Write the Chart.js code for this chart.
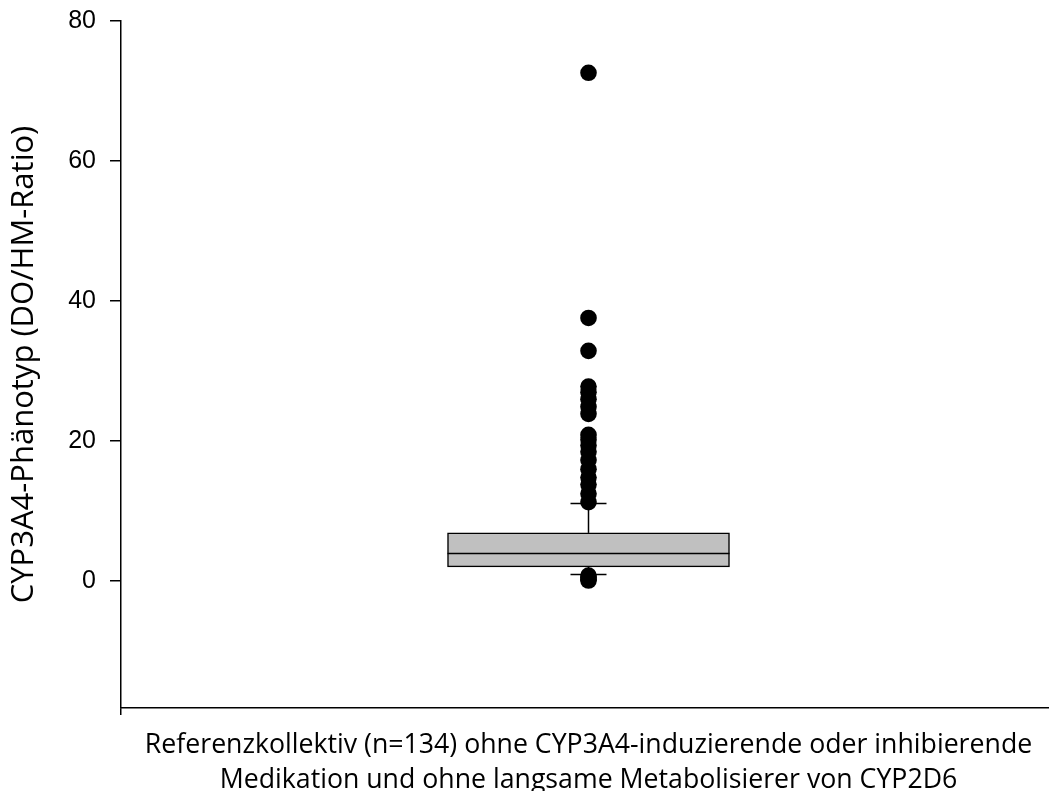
<!DOCTYPE html>
<html>
<head>
<meta charset="utf-8">
<script src="https://cdn.jsdelivr.net/npm/chart.js@4/dist/chart.umd.min.js"></script>
<style>
  html, body { margin: 0; padding: 0; background: #ffffff; overflow: hidden; }
  #wrap { width: 1049px; height: 791px; overflow: hidden; }
  canvas { display: block; }
</style>
</head>
<body>
<div id="wrap"><canvas id="c" width="1056" height="791"></canvas></div>
<script>
// ---- data ----
const categoryLabel = ["Referenzkollektiv (n=134) ohne CYP3A4-induzierende oder inhibierende",
                       "Medikation und ohne langsame Metabolisierer von CYP2D6"];
const yAxisTitle = "CYP3A4-Phänotyp (DO/HM-Ratio)";
const yTicks = [0, 20, 40, 60, 80];
const boxStats = { whiskerLow: 0.95, q1: 2.05, median: 3.95, q3: 6.9, whiskerHigh: 11.1 };
const outliers = [72.6, 37.6, 32.9,
                  27.8, 27.0, 26.0, 24.9, 23.9,
                  20.9, 20.2, 19.4, 18.5, 17.3, 16.0, 14.8, 13.8, 12.5, 11.3,
                  0.8, 0.55, 0.3, 0.1];

// ---- geometry (style) ----
const catX = 0;          // category position on the x scale
const boxHalf = 0.3016;  // half box width, x units
const capHalf = 0.0385;  // half whisker cap width, x units

const lineDs = (pts, order) => ({
  type: 'line', data: pts, borderColor: '#000', borderWidth: 1.5,
  pointRadius: 0, fill: false, order: order, tension: 0
});

const datasets = [
  { // box
    type: 'bar',
    data: [{ x: catX, y: [boxStats.q1, boxStats.q3] }],
    backgroundColor: '#c0c0c0', borderColor: '#000', borderWidth: 1.5,
    borderSkipped: false, barThickness: 282, order: 5
  },
  lineDs([{x: catX - boxHalf, y: boxStats.median}, {x: catX + boxHalf, y: boxStats.median}], 1),
  lineDs([{x: catX, y: boxStats.q3}, {x: catX, y: boxStats.whiskerHigh}], 2),
  lineDs([{x: catX, y: boxStats.q1}, {x: catX, y: boxStats.whiskerLow}], 2),
  lineDs([{x: catX - capHalf, y: boxStats.whiskerHigh}, {x: catX + capHalf, y: boxStats.whiskerHigh}], 0),
  lineDs([{x: catX - capHalf, y: boxStats.whiskerLow}, {x: catX + capHalf, y: boxStats.whiskerLow}], 0),
  { // outliers
    type: 'scatter',
    data: outliers.map(v => ({ x: catX, y: v })),
    backgroundColor: '#000', borderColor: '#000', pointRadius: 8.3, borderWidth: 0, order: 3
  }
];

new Chart(document.getElementById('c'), {
  data: { datasets },
  options: {
    responsive: false,
    animation: false,
    events: [],
    layout: { autoPadding: false, padding: { top: 21, right: 0, bottom: 0, left: 0 } },
    plugins: { legend: { display: false }, tooltip: { enabled: false } },
    scales: {
      x: {
        type: 'linear', min: -1, max: 1, offset: false,
        afterBuildTicks: s => { s.ticks = [{ value: catX }]; },
        afterFit: s => { s.height = 83; s.paddingLeft = 0; s.paddingRight = 0; },
        grid: { drawOnChartArea: false, drawTicks: true, tickLength: 7, color: '#000', lineWidth: 1.5 },
        border: { display: true, color: '#000', width: 1.5 },
        ticks: { display: true, callback: () => '', padding: 0 },
        title: {
          display: true, text: categoryLabel, color: '#000',
          font: { family: 'Open Sans', size: 26.7, lineHeight: '35px' },
          padding: { top: 0, bottom: -7 }
        }
      },
      y: {
        type: 'linear', min: -18.1, max: 80,
        afterBuildTicks: s => { s.ticks = yTicks.map(v => ({ value: v })); },
        afterFit: s => { s.width = 121; s.paddingTop = 0; s.paddingBottom = 0; },
        grid: { drawOnChartArea: false, drawTicks: true, tickLength: 11, color: '#000', lineWidth: 1.5 },
        border: { display: true, color: '#000', width: 1.5 },
        ticks: { color: '#000', padding: 14, font: { family: 'Liberation Sans', size: 25 } },
        title: {
          display: true, text: yAxisTitle, color: '#000',
          font: { family: 'Open Sans', size: 31, lineHeight: 1.2 },
          padding: { top: 6, bottom: 0 }
        }
      }
    }
  }
});
</script>
</body>
</html>
